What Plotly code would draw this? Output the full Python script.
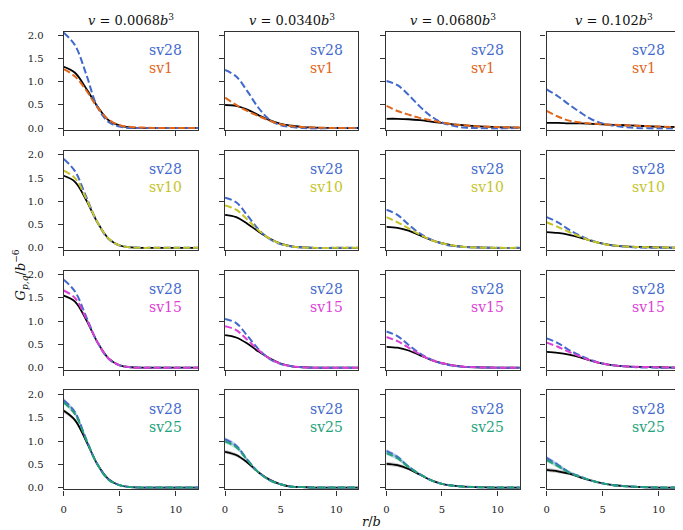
import plotly.graph_objects as go
from plotly.subplots import make_subplots

# r/b sample positions (shared by every curve)
r = [0, 1, 2, 3, 4, 5, 6, 7, 8, 10, 12]

col_titles = ["0.0068", "0.0340", "0.0680", "0.102"]
row_labels = ["sv1", "sv10", "sv15", "sv25"]

# row 1: reference (black), sv28, sv1  -- one list per column
ref_row1 = [
    [1.33, 1.20, 0.86, 0.47, 0.17, 0.05, 0.01, 0.0, 0.0, 0.0, 0.0],
    [0.50, 0.48, 0.40, 0.28, 0.17, 0.09, 0.05, 0.02, 0.01, 0.0, 0.0],
    [0.20, 0.20, 0.19, 0.17, 0.14, 0.11, 0.08, 0.06, 0.04, 0.02, 0.01],
    [0.11, 0.11, 0.10, 0.10, 0.09, 0.08, 0.07, 0.06, 0.05, 0.03, 0.02],
]
sv28_row1 = [
    [2.07, 1.80, 1.17, 0.46, 0.13, 0.03, 0.0, 0.0, 0.0, 0.0, 0.0],
    [1.26, 1.12, 0.80, 0.44, 0.18, 0.06, 0.02, 0.0, -0.01, 0.0, 0.0],
    [1.02, 0.93, 0.72, 0.47, 0.26, 0.12, 0.05, 0.01, 0.0, -0.01, 0.0],
    [0.84, 0.69, 0.51, 0.34, 0.19, 0.10, 0.05, 0.02, 0.0, -0.01, -0.01],
]
sv1_row1 = [
    [1.28, 1.12, 0.82, 0.45, 0.18, 0.06, 0.02, 0.01, 0.0, 0.0, 0.0],
    [0.66, 0.50, 0.37, 0.26, 0.16, 0.08, 0.04, 0.02, 0.01, 0.0, 0.0],
    [0.48, 0.37, 0.29, 0.22, 0.17, 0.12, 0.08, 0.06, 0.04, 0.02, 0.01],
    [0.37, 0.25, 0.16, 0.12, 0.10, 0.08, 0.07, 0.06, 0.05, 0.03, 0.02],
]

# row 2: reference, sv28, sv10
ref_row2 = [
    [1.55, 1.42, 1.03, 0.55, 0.20, 0.05, 0.01, 0.0, 0.0, 0.0, 0.0],
    [0.71, 0.66, 0.52, 0.35, 0.20, 0.09, 0.03, 0.01, 0.0, 0.0, 0.0],
    [0.45, 0.43, 0.37, 0.27, 0.17, 0.10, 0.05, 0.02, 0.01, 0.0, 0.0],
    [0.34, 0.32, 0.28, 0.22, 0.15, 0.09, 0.05, 0.03, 0.02, 0.01, 0.0],
]
sv28_row2 = [
    [1.91, 1.65, 1.10, 0.55, 0.19, 0.05, 0.01, 0.0, 0.0, 0.0, 0.0],
    [1.08, 0.98, 0.70, 0.40, 0.19, 0.08, 0.03, 0.01, 0.0, 0.0, 0.0],
    [0.82, 0.71, 0.50, 0.31, 0.18, 0.09, 0.04, 0.02, 0.01, 0.0, 0.0],
    [0.66, 0.55, 0.39, 0.26, 0.16, 0.09, 0.05, 0.03, 0.01, 0.0, 0.0],
]
sv10_row2 = [
    [1.66, 1.50, 1.06, 0.55, 0.20, 0.05, 0.01, 0.0, 0.0, 0.0, 0.0],
    [0.91, 0.82, 0.61, 0.38, 0.20, 0.09, 0.03, 0.01, 0.0, 0.0, 0.0],
    [0.66, 0.55, 0.42, 0.29, 0.17, 0.10, 0.05, 0.02, 0.01, 0.0, 0.0],
    [0.55, 0.45, 0.34, 0.24, 0.15, 0.09, 0.05, 0.03, 0.02, 0.01, 0.0],
]

# row 3: reference, sv28, sv15
ref_row3 = [
    [1.55, 1.42, 1.03, 0.55, 0.20, 0.05, 0.01, 0.0, 0.0, 0.0, 0.0],
    [0.70, 0.65, 0.52, 0.35, 0.20, 0.09, 0.03, 0.01, 0.0, 0.0, 0.0],
    [0.45, 0.43, 0.37, 0.27, 0.17, 0.10, 0.05, 0.02, 0.01, 0.0, 0.0],
    [0.34, 0.32, 0.28, 0.22, 0.15, 0.09, 0.05, 0.03, 0.02, 0.01, 0.0],
]
sv28_row3 = [
    [1.89, 1.64, 1.10, 0.55, 0.19, 0.05, 0.01, 0.0, 0.0, 0.0, 0.0],
    [1.05, 0.96, 0.69, 0.40, 0.19, 0.08, 0.03, 0.01, 0.0, 0.0, 0.0],
    [0.78, 0.68, 0.49, 0.31, 0.18, 0.09, 0.04, 0.02, 0.01, 0.0, 0.0],
    [0.63, 0.53, 0.38, 0.26, 0.16, 0.09, 0.05, 0.03, 0.01, 0.0, 0.0],
]
sv15_row3 = [
    [1.66, 1.50, 1.06, 0.55, 0.20, 0.05, 0.01, 0.0, 0.0, 0.0, 0.0],
    [0.89, 0.81, 0.60, 0.38, 0.20, 0.09, 0.03, 0.01, 0.0, 0.0, 0.0],
    [0.66, 0.57, 0.43, 0.29, 0.17, 0.10, 0.05, 0.02, 0.01, 0.0, 0.0],
    [0.54, 0.45, 0.34, 0.24, 0.15, 0.09, 0.05, 0.03, 0.02, 0.01, 0.0],
]

# row 4: reference, sv28, sv25 (+ uncertainty band half-width)
ref_row4 = [
    [1.65, 1.45, 1.00, 0.50, 0.18, 0.05, 0.01, 0.0, 0.0, 0.0, 0.0],
    [0.77, 0.70, 0.54, 0.33, 0.17, 0.07, 0.02, 0.01, 0.0, 0.0, 0.0],
    [0.51, 0.48, 0.40, 0.28, 0.16, 0.08, 0.04, 0.02, 0.01, 0.0, 0.0],
    [0.38, 0.35, 0.30, 0.22, 0.15, 0.09, 0.05, 0.03, 0.015, 0.0, 0.0],
]
sv28_row4 = [
    [1.88, 1.62, 1.04, 0.50, 0.17, 0.05, 0.01, 0.0, 0.0, 0.0, 0.0],
    [1.04, 0.90, 0.60, 0.33, 0.16, 0.07, 0.02, 0.01, 0.0, 0.0, 0.0],
    [0.79, 0.66, 0.45, 0.29, 0.16, 0.08, 0.04, 0.02, 0.01, 0.0, 0.0],
    [0.64, 0.49, 0.33, 0.24, 0.15, 0.09, 0.05, 0.03, 0.015, 0.0, 0.0],
]
sv25_row4 = [
    [1.83, 1.58, 1.03, 0.50, 0.17, 0.05, 0.01, 0.0, 0.0, 0.0, 0.0],
    [0.99, 0.87, 0.59, 0.33, 0.16, 0.07, 0.02, 0.01, 0.0, 0.0, 0.0],
    [0.74, 0.63, 0.44, 0.29, 0.16, 0.08, 0.04, 0.02, 0.01, 0.0, 0.0],
    [0.59, 0.46, 0.32, 0.23, 0.15, 0.09, 0.05, 0.03, 0.015, 0.0, 0.0],
]
band_row4 = [0.04, 0.04, 0.03, 0.02, 0.01, 0.005, 0.0, 0.0, 0.0, 0.0, 0.0]

refs = [ref_row1, ref_row2, ref_row3, ref_row4]
sv28s = [sv28_row1, sv28_row2, sv28_row3, sv28_row4]
others = [sv1_row1, sv10_row2, sv15_row3, sv25_row4]

BLUE = "#4169cc"
other_colors = ["#e0661a", "#c4c42a", "#dd3fd6", "#22a27a"]
band_fill = {"#000000": "rgba(0,0,0,0.22)", BLUE: "rgba(65,105,204,0.3)",
             "#22a27a": "rgba(34,162,122,0.3)"}

SERIF = "DejaVu Serif, Liberation Serif, serif"
DASH = "7px,3px"

# panel positions in pixels of the 683x530 page
W, H = 683, 530
col_px = [(53, 188), (215, 349), (377, 511), (538, 673)]
row_px = [(23, 122), (143, 243), (264, 364), (385, 485)]

fig = make_subplots(rows=4, cols=4)


def add_band(row, col, y, color):
    lo = [v - e for v, e in zip(y, band_row4)]
    hi = [v + e for v, e in zip(y, band_row4)]
    fig.add_trace(go.Scatter(x=r, y=lo, mode="lines", line=dict(width=0, shape="spline"),
                             showlegend=False, hoverinfo="skip"), row=row, col=col)
    fig.add_trace(go.Scatter(x=r, y=hi, mode="lines", line=dict(width=0, shape="spline"),
                             fill="tonexty", fillcolor=band_fill[color],
                             showlegend=False, hoverinfo="skip"), row=row, col=col)


for i in range(4):
    oc = other_colors[i]
    for j in range(4):
        row, col = i + 1, j + 1
        if i == 3:
            add_band(row, col, refs[i][j], "#000000")
            add_band(row, col, sv28s[i][j], BLUE)
            add_band(row, col, others[i][j], oc)
        fig.add_trace(go.Scatter(x=r, y=refs[i][j], mode="lines",
                                 line=dict(color="black", width=1.8, shape="spline"),
                                 showlegend=False), row=row, col=col)
        fig.add_trace(go.Scatter(x=r, y=sv28s[i][j], mode="lines",
                                 line=dict(color=BLUE, width=2, dash=DASH, shape="spline"),
                                 showlegend=False), row=row, col=col)
        fig.add_trace(go.Scatter(x=r, y=others[i][j], mode="lines",
                                 line=dict(color=oc, width=2, dash=DASH, shape="spline"),
                                 showlegend=False), row=row, col=col)

        k = i * 4 + j + 1
        sfx = "" if k == 1 else str(k)
        x0, x1 = col_px[j]
        t, b = row_px[i]
        fig.layout["xaxis" + sfx].update(
            domain=[x0 / W, x1 / W], range=[0, 12], tickvals=[0, 5, 10],
            showticklabels=(i == 3), ticks="outside", ticklen=5, tickcolor="#333",
            showline=True, linecolor="#333", linewidth=1.3, mirror=True,
            showgrid=False, zeroline=False, ticklabelstandoff=5,
            tickfont=dict(family=SERIF, size=10, color="#222"))
        fig.layout["yaxis" + sfx].update(
            domain=[1 - b / H, 1 - t / H], range=[-0.04, 2.09],
            tickvals=[0, 0.5, 1.0, 1.5, 2.0], ticktext=["0.0", "0.5", "1.0", "1.5", "2.0"],
            showticklabels=(j == 0), ticks="outside", ticklen=5, tickcolor="#333",
            showline=True, linecolor="#333", linewidth=1.3, mirror=True,
            showgrid=False, zeroline=False, ticklabelstandoff=12,
            tickfont=dict(family=SERIF, size=10, color="#222"))

        # in-panel labels
        fig.add_annotation(xref="x" + sfx + " domain", yref="y" + sfx + " domain",
                           x=0.62, y=0.81, xanchor="left", yanchor="middle",
                           text="sv28", showarrow=False,
                           font=dict(family=SERIF, size=14, color=BLUE))
        fig.add_annotation(xref="x" + sfx + " domain", yref="y" + sfx + " domain",
                           x=0.62, y=0.63, xanchor="left", yanchor="middle",
                           text=row_labels[i], showarrow=False,
                           font=dict(family=SERIF, size=14, color=oc))

# column titles
for j, v in enumerate(col_titles):
    x0, x1 = col_px[j]
    fig.add_annotation(xref="paper", yref="paper", x=(x0 + x1) / 2 / W, y=1 - 11 / H,
                       text=f"<i>v</i> = {v}<i>b</i><sup>3</sup>", showarrow=False,
                       xanchor="center", yanchor="middle",
                       font=dict(family=SERIF, size=13, color="#111"))

# axis labels
fig.add_annotation(xref="paper", yref="paper", x=10 / W, y=1 - 268 / H,
                   text="<i>G</i><sub><i>p,q</i></sub>/<i>b</i><sup>−6</sup>",
                   textangle=-90, showarrow=False, xanchor="center", yanchor="middle",
                   font=dict(family=SERIF, size=13, color="#111"))
fig.add_annotation(xref="paper", yref="paper", x=362 / W, y=1 - 517 / H,
                   text="<i>r</i>/<i>b</i>", showarrow=False,
                   xanchor="center", yanchor="middle",
                   font=dict(family=SERIF, size=13, color="#111"))

fig.update_layout(width=W, height=H, margin=dict(l=0, r=0, t=0, b=0),
                  paper_bgcolor="white", plot_bgcolor="white", showlegend=False)

fig.write_html("out.html")
